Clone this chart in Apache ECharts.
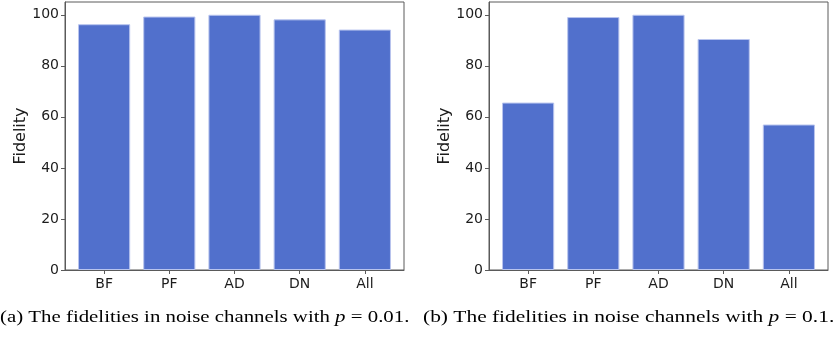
<!DOCTYPE html>
<html>
<head>
<meta charset="utf-8">
<script src="https://cdn.jsdelivr.net/npm/echarts@6/dist/echarts.min.js"></script>
<style>
  html, body { margin: 0; padding: 0; background: #fff; }
  #chart { width: 836px; height: 339px; }
</style>
</head>
<body>
<div id="chart"></div>
<script>
// Noise channel categories and the fidelity (%) reached in each
const categories = ['BF', 'PF', 'AD', 'DN', 'All'];
const fidelityLowNoise = [96.3, 99.3, 100, 98.2, 94.2];   // p = 0.01
const fidelityHighNoise = [65.6, 99.1, 100, 90.5, 57.0];  // p = 0.1
const yTicks = [0, 20, 40, 60, 80, 100];
const captionA = ['(a) The fidelities in noise channels with ', 'p', ' = 0.01.'];
const captionB = ['(b) The fidelities in noise channels with ', 'p', ' = 0.1.'];

const BAR = '#5170cc';
const SPINE = '#5a5a5a';
const TEXT = '#1c1c1c';
const catIdx = categories.map((_, i) => i);

function grid(left) {
  return { left: left, top: 2, width: 339, height: 268, show: true,
           borderColor: SPINE, borderWidth: 1, backgroundColor: '#fff' };
}
function xAxis(gi) {
  return {
    type: 'value', gridIndex: gi, min: -0.6, max: 4.6,
    splitLine: { show: false },
    axisLine: { show: true, onZero: false, lineStyle: { color: SPINE } },
    axisTick: { show: true, customValues: catIdx, length: 4, lineStyle: { color: SPINE } },
    axisLabel: { customValues: catIdx, formatter: v => categories[Math.round(v)],
                 color: TEXT, fontSize: 14, fontFamily: 'DejaVu Sans', margin: 7 }
  };
}
function yAxis(gi) {
  return {
    type: 'value', gridIndex: gi, min: 0, max: 105,
    name: 'Fidelity', nameLocation: 'middle', nameGap: 36,
    nameTextStyle: { color: TEXT, fontSize: 16, fontFamily: 'DejaVu Sans' },
    splitLine: { show: false },
    axisLine: { show: true, onZero: false, lineStyle: { color: SPINE } },
    axisTick: { show: true, customValues: yTicks, length: 4, lineStyle: { color: SPINE } },
    axisLabel: { customValues: yTicks, color: TEXT, fontSize: 14,
                 fontFamily: 'DejaVu Sans', margin: 6 }
  };
}
function bars(gi, values) {
  return {
    type: 'bar', xAxisIndex: gi, yAxisIndex: gi,
    data: values.map((v, i) => [i, v]),
    barWidth: '80%',
    itemStyle: { color: BAR, borderColor: '#b8c4ee', borderWidth: 1 },
    animation: false
  };
}
// Caption under each panel; the serif type is set a little wide
function caption(x, parts, stretch) {
  return {
    type: 'text', x: x, y: 309, scaleX: stretch, scaleY: 1,
    style: {
      text: '{n|' + parts[0] + '}{i|' + parts[1] + '}{n|' + parts[2] + '}',
      rich: {
        n: { fontFamily: 'Liberation Serif', fontSize: 17, fill: '#000' },
        i: { fontFamily: 'Liberation Serif', fontSize: 17, fontStyle: 'italic', fill: '#000' }
      }
    }
  };
}

const chart = echarts.init(document.getElementById('chart'), null, { renderer: 'canvas' });
chart.setOption({
  animation: false,
  grid: [grid(65), grid(489)],
  xAxis: [xAxis(0), xAxis(1)],
  yAxis: [yAxis(0), yAxis(1)],
  series: [bars(0, fidelityLowNoise), bars(1, fidelityHighNoise)],
  graphic: [caption(0, captionA, 1.226), caption(423, captionB, 1.26)]
});
</script>
</body>
</html>
